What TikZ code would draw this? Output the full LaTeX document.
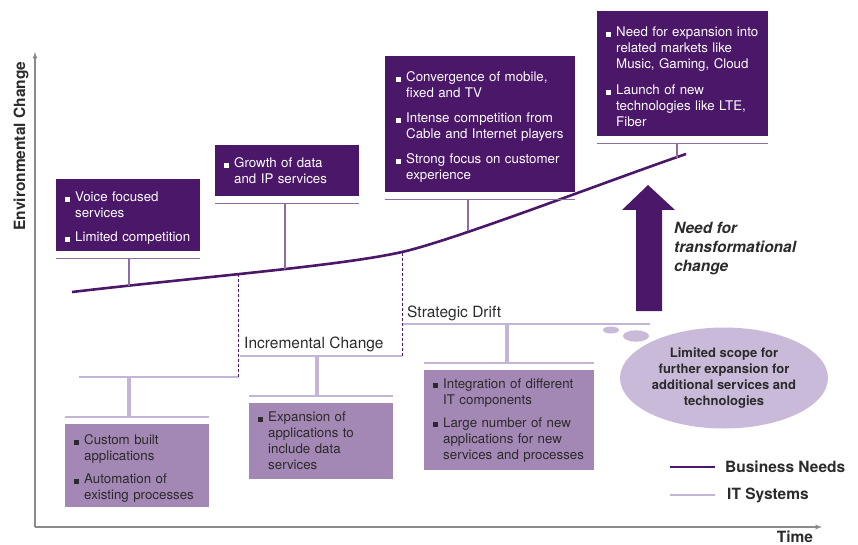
\documentclass[tikz,border=0pt]{standalone}
\usepackage{fontspec}
\setmainfont{TeX Gyre Heros}
\usetikzlibrary
  {
    arrows,           % latex heads on the axes
    positioning,      % legend labels next to their keys
    shapes.geometric, % ellipse for the thought bubble
  }

\definecolor{bizpurple}{HTML}{4B1768}
\definecolor{stempurple}{HTML}{8C6DA4}
\definecolor{itfill}{HTML}{A387B5}
\definecolor{itline}{HTML}{C4B4D5}
\definecolor{cloudfill}{HTML}{C9BAD9}
\definecolor{axisgray}{HTML}{8A8A8A}
\definecolor{darktext}{HTML}{2B2B2B}

% square bullet and the indent of a wrapped line
\newcommand{\sq}{\makebox[10pt][l]{\rule{5pt}{5pt}}}
\newcommand{\ind}{\hspace*{10pt}}
% first bullet with a tall strut, pushes the text a bit lower in its box
\newcommand{\topsq}{\rule{0pt}{16pt}\sq}

\begin{document}
\begin{tikzpicture}
    [
      x=1pt, y=-1pt,
      bizbox/.style=
        {
          rectangle,
          fill=bizpurple,
          text=white,
          anchor=north west,
          inner xsep=9pt,
          inner ysep=0pt,
          align=left,
          font=\fontsize{13.3}{16}\selectfont,
        },
      itbox/.style=
        {
          bizbox,
          fill=itfill,
          text=darktext,
        },
      bizrule/.style={draw=stempurple, line width=1.4pt},
      itrule/.style={draw=itline, line width=2pt},
      itstem/.style={draw=itline, line width=3.5pt},
      driftline/.style={draw=bizpurple, line width=0.8pt, dash pattern=on 3pt off 2pt},
      axis/.style={draw=axisgray, line width=1.2pt, -latex},
      axislabel/.style={font=\fontsize{15.5}{18}\selectfont\bfseries, text=darktext, inner sep=0pt},
      steplabel/.style={font=\fontsize{15.5}{18}\selectfont, text=darktext, inner sep=0pt, anchor=base west},
      legendlabel/.style={font=\fontsize{15.5}{18}\selectfont\bfseries, text=darktext, inner sep=0pt, anchor=west},
    ]
    \useasboundingbox (0,0) rectangle (858,545);

    % axes
    \coordinate (origin) at (35,527);
    \coordinate (ytop)   at (35,52);
    \coordinate (xend)   at (822,527);
    \draw[axis] (origin) -- (ytop);
    \draw[axis] (origin) -- (xend);
    \node[axislabel, rotate=90] (envlabel) at (21,146) {Environmental Change};
    \node[axislabel, anchor=base] (timelabel) at (795,542) {Time};

    % business needs curve
    \draw[bizpurple, line width=2.6pt]
      (72,292) .. controls (200,277) and (340,266) .. (402,252)
               .. controls (455,240) and (610,180) .. (686,154);
    \coordinate (cv1)   at (129,285.5);
    \coordinate (cv2)   at (285,269);
    \coordinate (cv3)   at (468,231);
    \coordinate (cv4)   at (677,158);
    \coordinate (inc)   at (238,274.5);
    \coordinate (drift) at (402,252);

    % business boxes
    \node[bizbox, minimum width=144pt, minimum height=72pt, text width=126pt]
      (voice) at (56,179)
      {\topsq Voice focused\\\ind services\\[8pt]\sq Limited competition};
    \node[bizbox, minimum width=144pt, minimum height=51pt, text width=126pt]
      (growth) at (215,145)
      {\sq Growth of data\\\ind and IP services};
    \node[bizbox, minimum width=190pt, minimum height=136pt, text width=168pt, inner xsep=11pt]
      (converge) at (385,56)
      {\topsq Convergence of mobile,\\\ind fixed and TV\\[9pt]
       \sq Intense competition from\\\ind Cable and Internet players\\[9pt]
       \sq Strong focus on customer\\\ind experience};
    \node[bizbox, minimum width=171pt, minimum height=125pt, text width=153pt]
      (expand) at (597,11)
      {\topsq Need for expansion into\\\ind related markets like\\\ind Music, Gaming, Cloud\\[10pt]
       \sq Launch of new\\\ind technologies like LTE,\\\ind Fiber};

    \foreach \bx/\cv in {voice/cv1, growth/cv2, converge/cv3, expand/cv4}
      {
        \draw[bizrule] ([yshift=-7pt]\bx.south west) -- ([yshift=-7pt]\bx.south east);
        \coordinate (\bx-ul) at ([yshift=-7pt]\bx.south);
        \draw[bizrule] (\cv |- \bx-ul) -- (\cv);
      }

    % IT systems steps
    \coordinate (it1a) at (79,377);
    \coordinate (it1b) at (238,377);
    \coordinate (it2a) at (240,356);
    \coordinate (it2b) at (402,356);
    \coordinate (it3a) at (402,324);
    \coordinate (it3b) at (650,324);
    \draw[itline, line width=2.6pt] (it1a) -- (it1b);
    \draw[itrule] (it2a) -- (it2b);
    \draw[itrule] (it3a) -- (it3b);
    \draw[driftline] (it1b) -- (inc);
    \draw[driftline] (it2b) -- (drift);
    \node[steplabel] (inclabel)   at (244,348) {Incremental Change};
    \node[steplabel] (driftlabel) at (407,317) {Strategic Drift};

    % IT boxes
    \node[itbox, minimum width=144pt, minimum height=83pt, text width=126pt]
      (custom) at (65,424)
      {\topsq Custom built\\\ind applications\\[7pt]\sq Automation of\\\ind existing processes};
    \node[itbox, minimum width=144pt, minimum height=76pt, text width=126pt]
      (apps) at (249,403)
      {\sq Expansion of\\\ind applications to\\\ind include data\\\ind services};
    \node[itbox, minimum width=170pt, minimum height=100pt, text width=152pt]
      (integ) at (424,370)
      {\sq Integration of different\\\ind IT components\\[7pt]
       \sq Large number of new\\\ind applications for new\\\ind services and processes};

    \coordinate (st1) at (129,377);
    \coordinate (st2) at (317,356);
    \coordinate (st3) at (507,324);
    \foreach \bx/\st in {custom/st1, apps/st2, integ/st3}
      {
        \draw[itrule] ([yshift=7pt]\bx.north west) -- ([yshift=7pt]\bx.north east);
        \coordinate (\bx-ul) at ([yshift=7pt]\bx.north);
        \draw[itstem] (\st) -- (\st |- \bx-ul);
      }

    % push towards transformation
    \fill[bizpurple] (636,311) -- (636,210) -- (622,210) -- (648,185)
      -- (675,210) -- (662,210) -- (662,311) -- cycle;
    \node[font=\fontsize{15.5}{19}\selectfont\bfseries\itshape, text=darktext,
          align=left, anchor=west, inner sep=0pt]
      (needlabel) at (674,249) {Need for\\transformational\\change};

    % thought bubble
    \fill[cloudfill] (611,330) ellipse [x radius=8pt, y radius=3.5pt];
    \fill[cloudfill] (636,336) ellipse [x radius=13pt, y radius=5.7pt];
    \node[ellipse, fill=cloudfill, minimum width=208pt, minimum height=101pt,
          inner sep=0pt, align=center, text=darktext,
          font=\fontsize{13}{16}\selectfont\bfseries]
      (scope) at (724,378)
      {Limited scope for\\further expansion for\\additional services and\\technologies};

    % legend
    \coordinate (bnstart) at (670,467);
    \coordinate (bnend)   at (715,467);
    \coordinate (itstart) at (670,495);
    \coordinate (itend)   at (715,495);
    \draw[bizpurple, line width=2.6pt] (bnstart) -- (bnend);
    \draw[itline, line width=2.6pt] (itstart) -- (itend);
    \node[legendlabel, right=10pt of bnend] (bnlabel) {Business Needs};
    \node[legendlabel, right=12pt of itend] (itlabel) {IT Systems};
\end{tikzpicture}
\end{document}
